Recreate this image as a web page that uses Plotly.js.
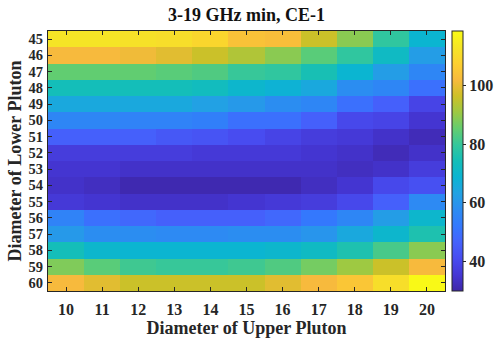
<!DOCTYPE html>
<html>
<head>
<meta charset="utf-8">
<script src="https://cdn.plot.ly/plotly-3.0.1.min.js"></script>
<style>
  html, body { margin: 0; padding: 0; background: #fff; }
  #chart { width: 494px; height: 339px; }
</style>
</head>
<body>
<div id="chart"></div>
<script>
// Upper pluton diameters (columns) and lower pluton diameters (rows)
const upperDiameters = [10, 11, 12, 13, 14, 15, 16, 17, 18, 19, 20];
const lowerDiameters = [45, 46, 47, 48, 49, 50, 51, 52, 53, 54, 55, 56, 57, 58, 59, 60];

// 3-19 GHz minimum, one row per lower diameter
const row45 = [113, 113, 112, 111, 109, 104, 103, 96, 89, 79, 69];
const row46 = [102, 102, 101, 99, 96, 93, 89, 84, 79, 72, 62];
const row47 = [85, 85, 85, 84, 83, 80, 79, 75, 69, 62, 56];
const row48 = [74, 74, 74, 74, 73, 70, 68, 65, 58, 56, 50];
const row49 = [65, 65, 65, 65, 63, 61, 58, 56, 50, 46, 39];
const row50 = [56, 56, 55, 55, 54, 50, 50, 46, 40, 39, 35];
const row51 = [46, 46, 46, 44, 43, 41, 39, 37, 36, 34, 32];
const row52 = [37, 37, 37, 37, 36, 36, 36, 35, 34, 32, 34];
const row53 = [35, 35, 34, 34, 34, 34, 34, 34, 33, 34, 37];
const row54 = [34, 33, 31, 31, 31, 31, 31, 33, 35, 40, 42];
const row55 = [36, 35, 34, 34, 34, 35, 36, 37, 40, 46, 57];
const row56 = [55, 50, 48, 46, 46, 46, 48, 52, 56, 62, 70];
const row57 = [61, 58, 58, 57, 57, 58, 58, 60, 65, 70, 76];
const row58 = [74, 70, 69, 69, 69, 69, 70, 72, 76, 82, 89];
const row59 = [88, 84, 81, 80, 80, 81, 83, 87, 91, 96, 102];
const row60 = [102, 99, 96, 96, 96, 96, 99, 102, 105, 111, 118];

const colorTicks = [40, 60, 80, 100];

const zRows = [row45, row46, row47, row48, row49, row50, row51, row52,
               row53, row54, row55, row56, row57, row58, row59, row60];

// Parula colormap (current MATLAB version), sampled every 16th entry
const parulaRGB = [
  [62, 38, 168], [69, 55, 213], [72, 76, 240], [69, 98, 252],
  [52, 121, 253], [44, 140, 242], [34, 162, 227], [11, 180, 210],
  [20, 190, 184], [53, 199, 155], [100, 205, 111], [157, 201, 67],
  [206, 192, 39], [247, 186, 61], [252, 208, 48], [245, 229, 38],
  [249, 251, 21]
];
const parula = parulaRGB.map((c, i) => [
  i / (parulaRGB.length - 1),
  'rgb(' + c.join(',') + ')'
]);

const ink = '#262626';
const serif = 'Liberation Serif, Times New Roman, serif';

const trace = {
  type: 'heatmap',
  x: upperDiameters,
  y: lowerDiameters,
  z: zRows,
  zmin: 30,
  zmax: 118.5,
  colorscale: parula,
  zsmooth: false,
  colorbar: {
    x: 1.0176,
    xanchor: 'left',
    xref: 'paper',
    y: 0.5,
    yanchor: 'middle',
    len: 1,
    lenmode: 'fraction',
    thickness: 11,
    thicknessmode: 'pixels',
    outlinecolor: ink,
    outlinewidth: 1,
    tickvals: colorTicks,
    ticks: 'outside',
    ticklen: 3,
    tickcolor: ink,
    tickfont: { family: serif, size: 16, color: ink, weight: 'bold' },
    xpad: 0,
    ypad: 0
  }
};

const axisCommon = {
  showline: true,
  mirror: 'ticks',
  linecolor: ink,
  linewidth: 1,
  ticks: 'inside',
  ticklen: 4,
  tickcolor: ink,
  showgrid: false,
  zeroline: false
};

const layout = {
  width: 494,
  height: 339,
  margin: { l: 48, r: 49, t: 31, b: 48, autoexpand: false },
  paper_bgcolor: '#ffffff',
  plot_bgcolor: '#ffffff',
  title: {
    text: '3-19 GHz min, CE-1',
    font: { family: serif, size: 18, color: '#111', weight: 'bold' },
    x: 0.5,
    xref: 'paper',
    xanchor: 'center',
    y: 1 - 15 / 339,
    yref: 'container',
    yanchor: 'middle'
  },
  xaxis: Object.assign({}, axisCommon, {
    tickvals: upperDiameters,
    range: [9.5, 20.5],
    ticklabelstandoff: 4,
    tickfont: { family: serif, size: 16, color: ink, weight: 'bold' },
    title: {
      text: 'Diameter of Upper Pluton',
      font: { family: serif, size: 18, color: ink, weight: 'bold' },
      standoff: 2
    }
  }),
  yaxis: Object.assign({}, axisCommon, {
    tickvals: lowerDiameters,
    range: [60.5, 44.5],
    ticklabelstandoff: 1,
    tickfont: { family: serif, size: 14.5, color: ink, weight: 'bold' },
    title: {
      text: 'Diameter of Lower Pluton',
      font: { family: serif, size: 18, color: ink, weight: 'bold' },
      standoff: 2
    }
  })
};

Plotly.newPlot('chart', [trace], layout, { displayModeBar: false, staticPlot: true });
</script>
</body>
</html>
